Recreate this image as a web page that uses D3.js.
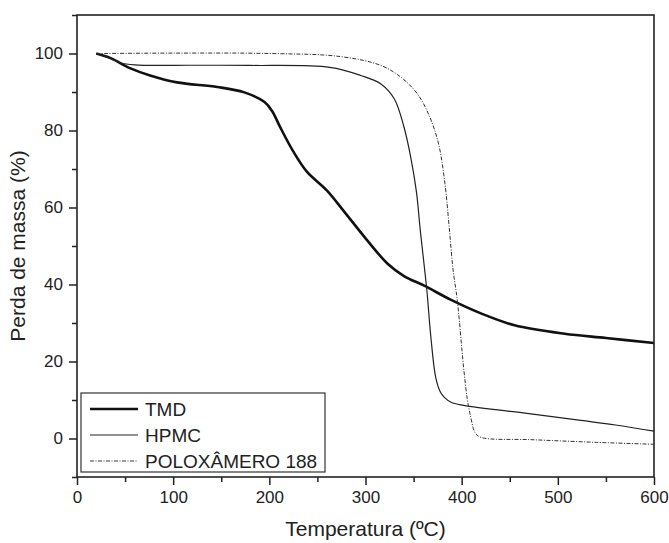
<!DOCTYPE html>
<html>
<head>
<meta charset="utf-8">
<script src="https://cdn.jsdelivr.net/npm/d3@7"></script>
<style>
  body { margin: 0; background: #fff; }
  text { font-family: "Liberation Sans", Arial, sans-serif; fill: #222; }
</style>
</head>
<body>
<div id="chart"></div>
<script>
// Series data: [temperature (ºC), mass (%)]
const tmd = [[20,100],[35,98.8],[55,96.2],[76,94.3],[104,92.5],[146,91.3],[174,89.9],[195,87.4],
  [203,85],[211,81],[225,74.5],[239,69.3],[260,64.4],[277,59.2],[302,51.4],[323,45.4],
  [340,42.2],[361,39.7],[389,36],[420,32.5],[455,29.4],[507,27.2],[550,26.1],[600,24.8]];
const hpmc = [[20,100],[32,99],[45,97.6],[60,97.05],[120,96.95],[180,96.9],[263,96.4],[295,94.3],[316,92.1],
  [330,88.2],[340,80.9],[347,73.1],[353,64],[357,54],[361,45],[364,38],[368,26.3],
  [373,15.9],[378,12],[382,10.7],[389,9.4],[402,8.6],[472,6.4],[524,4.7],[560,3.5],[600,1.9]];
const polox = [[20,100],[100,100.1],[200,100],[274,99.2],[316,96.9],[337,93.8],[354,89.5],
  [366,84],[376,76.5],[383,65.3],[387,55],[391,44],[395.5,35.8],[402,18.5],[406,10],
  [409.5,5.5],[414,1.5],[420,0.3],[472,-0.3],[540,-1],[600,-1.5]];

const seriesNames = ["TMD", "HPMC", "POLOXÂMERO 188"];
const xTicks = [0, 100, 200, 300, 400, 500, 600];
const yTicks = [0, 20, 40, 60, 80, 100];

const W = 669, H = 543;
const margin = {top: 15, right: 15, bottom: 66, left: 77};

const svg = d3.select("#chart").append("svg")
  .attr("width", W).attr("height", H);

const x = d3.scaleLinear().domain([0, 600]).range([margin.left, W - margin.right]);
const y = d3.scaleLinear().domain([-10, 110]).range([H - margin.bottom, margin.top]);

const styles = [
  {width: 2.6, dash: null, color: "#111"},
  {width: 1.2, dash: null, color: "#222"},
  {width: 1.0, dash: "4,1.5,1,1.5", color: "#333"}
];

const line = d3.line().x(d => x(d[0])).y(d => y(d[1])).curve(d3.curveCatmullRom.alpha(0.5));

const plot = svg.append("g");
[tmd, hpmc, polox].forEach((s, i) => {
  plot.append("path")
    .datum(s)
    .attr("d", line)
    .attr("fill", "none")
    .attr("stroke", styles[i].color)
    .attr("stroke-width", styles[i].width)
    .attr("stroke-dasharray", styles[i].dash)
    .attr("stroke-linejoin", "round");
});

// Axes
const axisColor = "#222";
const xAxis = svg.append("g")
  .attr("transform", `translate(0,${y(-10)})`)
  .call(d3.axisBottom(x).tickValues(xTicks).tickSize(8).tickPadding(6).tickFormat(d3.format("d")));
const xMinor = svg.append("g")
  .attr("transform", `translate(0,${y(-10)})`)
  .call(d3.axisBottom(x).tickValues(d3.range(50, 600, 100)).tickSize(5).tickFormat(""));
const yAxis = svg.append("g")
  .attr("transform", `translate(${x(0)},0)`)
  .call(d3.axisLeft(y).tickValues(yTicks).tickSize(8).tickPadding(6).tickFormat(d3.format("d")));
const yMinor = svg.append("g")
  .attr("transform", `translate(${x(0)},0)`)
  .call(d3.axisLeft(y).tickValues([-10, 10, 30, 50, 70, 90, 110]).tickSize(5).tickFormat(""));

[xAxis, xMinor, yAxis, yMinor].forEach(g => {
  g.select(".domain").remove();
  g.selectAll(".tick line").attr("stroke", axisColor).attr("stroke-width", 1.5);
  g.selectAll(".tick text").style("font-size", "17px").attr("fill", "#222")
    .style("font-family", "'Liberation Sans', Arial, sans-serif");
});

// Frame
svg.append("rect")
  .attr("x", x(0)).attr("y", y(110))
  .attr("width", x(600) - x(0)).attr("height", y(-10) - y(110))
  .attr("fill", "none").attr("stroke", axisColor).attr("stroke-width", 1.6);

// Axis titles
svg.append("text")
  .attr("x", (x(0) + x(600)) / 2).attr("y", 536)
  .attr("text-anchor", "middle")
  .style("font-size", "21px")
  .text("Temperatura (ºC)");
svg.append("text")
  .attr("transform", `translate(25,${(y(-10) + y(110)) / 2}) rotate(-90)`)
  .attr("text-anchor", "middle")
  .style("font-size", "21px")
  .text("Perda de massa (%)");

// Legend
const legend = svg.append("g").attr("transform", "translate(81,393)");
legend.append("rect")
  .attr("width", 244).attr("height", 79)
  .attr("fill", "#fff").attr("stroke", "#333").attr("stroke-width", 1.2);
seriesNames.forEach((name, i) => {
  const ly = 16 + i * 26;
  legend.append("line")
    .attr("x1", 9).attr("x2", 57).attr("y1", ly).attr("y2", ly)
    .attr("stroke", styles[i].color)
    .attr("stroke-width", styles[i].width)
    .attr("stroke-dasharray", styles[i].dash);
  legend.append("text")
    .attr("x", 64).attr("y", ly).attr("dy", "0.35em")
    .style("font-size", "19px")
    .text(name);
});
</script>
</body>
</html>
